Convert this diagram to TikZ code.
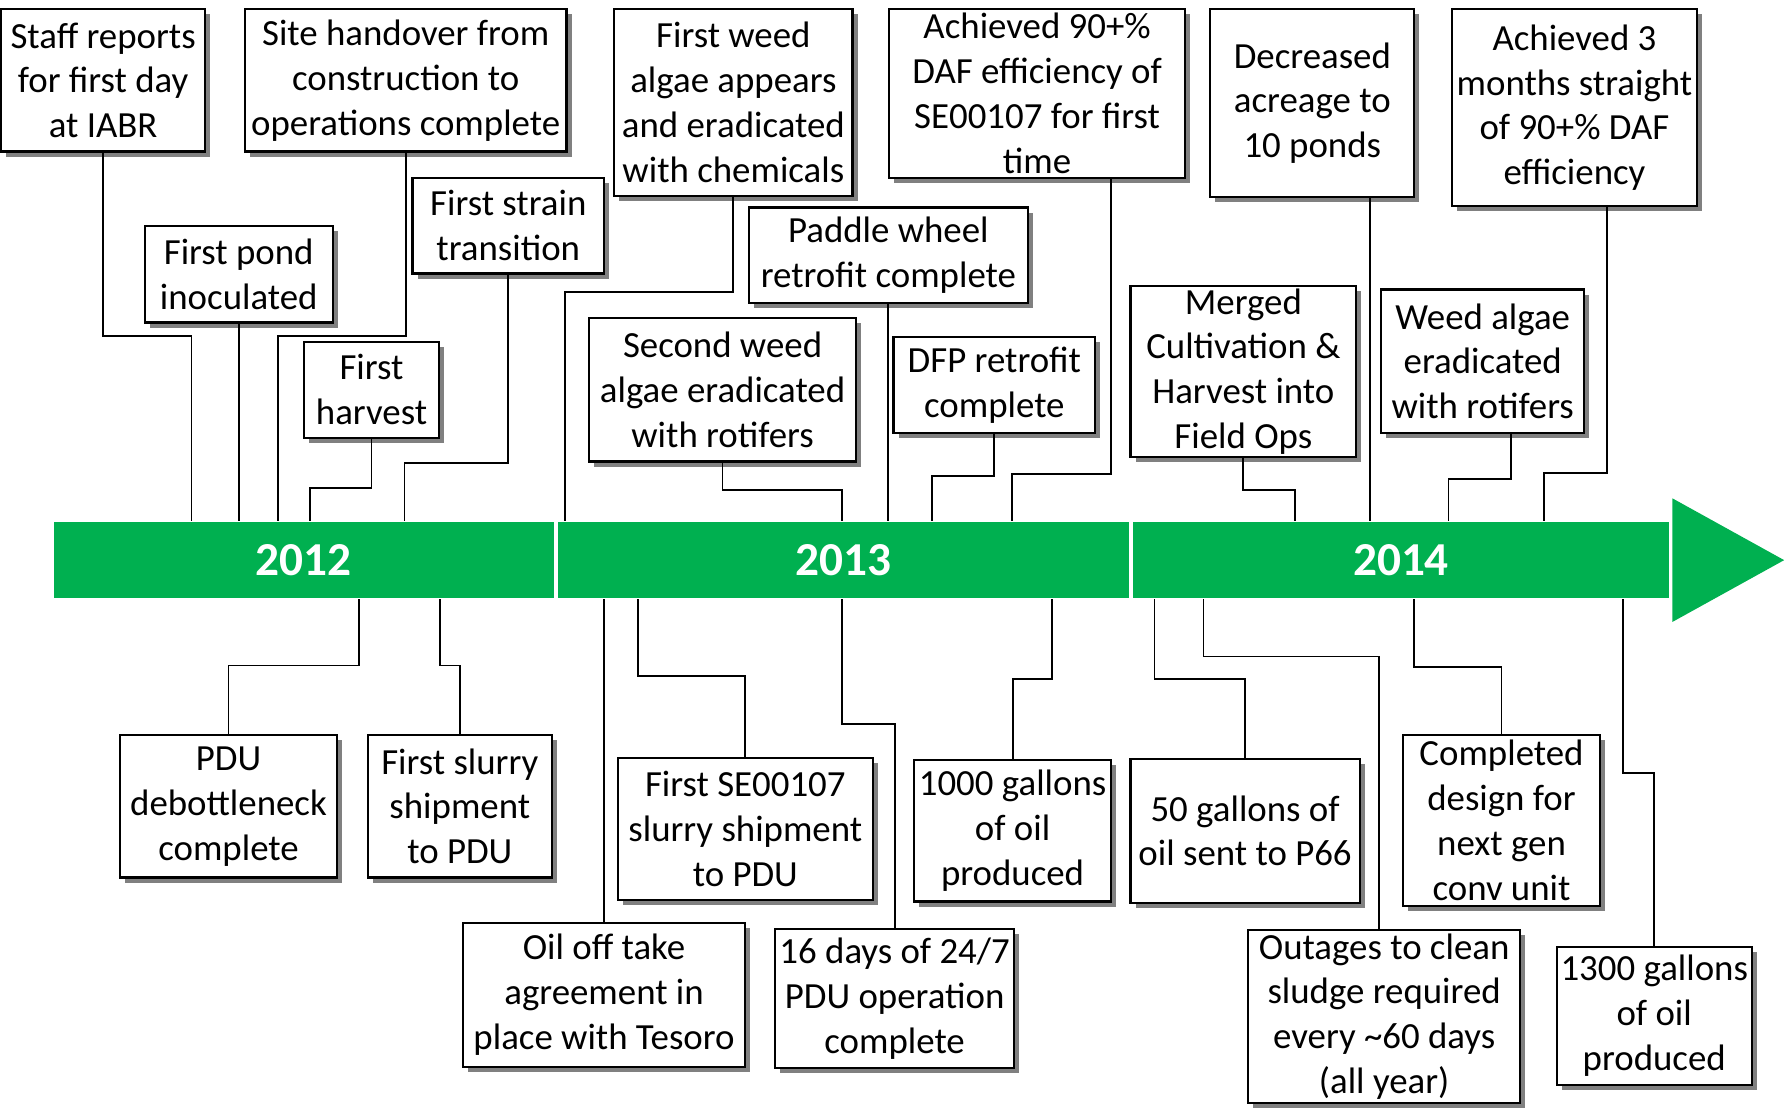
\documentclass[tikz,border=0pt]{standalone}
\usepackage{fontspec}
\setmainfont{Carlito}
\usepackage{xcolor}
\definecolor{mygreen}{RGB}{0, 176, 80}
\usepackage{tikz}
\usetikzlibrary{
    shadows,
    positioning
}
\tikzstyle{event} = [
    rectangle, draw,
    line width=0.55pt,
    fill=white,
    text centered,
    align=center,
    inner sep=0pt,
    font=\fontsize{9.2}{11.2}\selectfont,
    drop shadow={shadow xshift=0.45mm, shadow yshift=-0.45mm,
                 fill=black!50, opacity=1}
]
\tikzstyle{year} = [
    rectangle,
    fill=mygreen,
    minimum height=6.7mm,
    inner sep=0pt,
    text=white,
    font=\fontsize{11.8}{13}\selectfont\bfseries
]
\tikzstyle{link} = [
    line width=0.45pt
]

\begin{document}
\begin{tikzpicture}[x=0.1mm, y=-0.1mm]

\useasboundingbox (0,0) rectangle (1568,973);

% time bar
\node (y2012) [year, minimum width=43.9mm] at (266.5,491.5) {2012};
\node (y2013) [year, minimum width=50.1mm, right=0.2mm of y2012] {2013};
\node (y2014) [year, minimum width=47.1mm, right=0.2mm of y2013] {2014};
\fill [mygreen] ([xshift=0.2mm, yshift=2mm]y2014.north east)
    -- ([xshift=0.2mm, yshift=-2mm]y2014.south east)
    -- ([xshift=10mm]y2014.east) -- cycle;

% events above the bar
\node (staff) [event, minimum width=17.9mm, minimum height=12.5mm] at (90.5,70.5)
    {Staff reports\\for first day\\at IABR};
\node (handover) [event, minimum width=28.2mm, minimum height=12.5mm] at (356,70.5)
    {Site handover from\\construction to\\operations complete};
\node (pond) [event, minimum width=16.5mm, minimum height=8.5mm] at (209.5,240.5)
    {First pond\\inoculated};
\node (strain) [event, minimum width=16.8mm, minimum height=8.4mm] at (446,198)
    {First strain\\transition};
\node (harvest) [event, minimum width=11.8mm, minimum height=8.4mm] at (326,342)
    {First\\harvest};
\node (weed1) [event, minimum width=20.9mm, minimum height=16.4mm] at (643.5,90)
    {First weed\\algae appears\\and eradicated\\with chemicals};
\node (daf1) [event, minimum width=26mm, minimum height=14.8mm] at (910,82)
    {Achieved 90+\%\\DAF efficiency of\\SE00107 for first\\time};
\node (paddle) [event, minimum width=24.5mm, minimum height=8.4mm] at (779.5,224)
    {Paddle wheel\\retrofit complete};
\node (weed2) [event, minimum width=23.4mm, minimum height=12.6mm] at (634,342)
    {Second weed\\algae eradicated\\with rotifers};
\node (dfp) [event, minimum width=17.7mm, minimum height=8.4mm] at (872.5,338)
    {DFP retrofit\\complete};
\node (acreage) [event, minimum width=17.9mm, minimum height=16.5mm] at (1151.5,90.5)
    {Decreased\\acreage to\\10 ponds};
\node (daf3) [event, minimum width=21.5mm, minimum height=17.3mm] at (1381.5,94.5)
    {Achieved 3\\months straight\\of 90+\% DAF\\efficiency};
\node (merged) [event, minimum width=19.8mm, minimum height=15mm] at (1091,326)
    {Merged\\Cultivation \&\\Harvest into\\Field Ops};
\node (weed3) [event, minimum width=17.8mm, minimum height=12.6mm] at (1301,317)
    {Weed algae\\eradicated\\with rotifers};

% events below the bar
\node (debottle) [event, minimum width=19.1mm, minimum height=12.5mm] at (200.5,707.5)
    {PDU\\debottleneck\\complete};
\node (slurry1) [event, minimum width=16.1mm, minimum height=12.5mm] at (403.5,707.5)
    {First slurry\\shipment\\to PDU};
\node (offtake) [event, minimum width=24.8mm, minimum height=12.6mm] at (530,873)
    {Oil off take\\agreement in\\place with Tesoro};
\node (slurry2) [event, minimum width=22.4mm, minimum height=12.5mm] at (654,727.5)
    {First SE00107\\slurry shipment\\to PDU};
\node (pduops) [event, minimum width=21mm, minimum height=12.2mm] at (785,876)
    {16 days of 24/7\\PDU operation\\complete};
\node (oil1000) [event, minimum width=17.3mm, minimum height=12.4mm] at (888.5,729)
    {1000 gallons\\of oil\\produced};
\node (oil50) [event, minimum width=20.1mm, minimum height=12.6mm] at (1092.5,729)
    {50 gallons of\\oil sent to P66};
\node (outages) [event, minimum width=23.9mm, minimum height=15.2mm] at (1214.5,892)
    {Outages to clean\\sludge required\\every \textasciitilde60 days\\(all year)};
\node (nextgen) [event, minimum width=17.3mm, minimum height=15mm] at (1317.5,720)
    {Completed\\design for\\next gen\\conv unit};
\node (oil1300) [event, minimum width=17.1mm, minimum height=12.1mm] at (1451.5,891.5)
    {1300 gallons\\of oil\\produced};

% leader lines, top
\draw [link] (staff.south) |- (168,295) -- (168,0 |- y2012.north);
\draw [link] (handover.south) |- (244,295) -- (244,0 |- y2012.north);
\draw [link] (pond.south) -- (pond.south |- y2012.north);
\draw [link] (strain.south) |- (355,406) -- (355,0 |- y2012.north);
\draw [link] (harvest.south) |- (272,428) -- (272,0 |- y2012.north);
\draw [link] (weed1.south) |- (496,256) -- (496,0 |- y2013.north);
\draw [link] (975,0 |- daf1.south) |- (888,416) -- (888,0 |- y2013.north);
\draw [link] (paddle.south) -- (paddle.south |- y2013.north);
\draw [link] (weed2.south) |- (739,430) -- (739,0 |- y2013.north);
\draw [link] (dfp.south) |- (818,418) -- (818,0 |- y2013.north);
\draw [link] (1202,0 |- acreage.south) -- (1202,0 |- y2014.north);
\draw [link] (1410,0 |- daf3.south) |- (1355,415) -- (1355,0 |- y2014.north);
\draw [link] (merged.south) |- (1136,430) -- (1136,0 |- y2014.north);
\draw [link] (1326,0 |- weed3.south) |- (1271,420) -- (1271,0 |- y2014.north);

% leader lines, bottom
\draw [link] (debottle.north) |- (315,584) -- (315,0 |- y2012.south);
\draw [link] (slurry1.north) |- (386,584) -- (386,0 |- y2012.south);
\draw [link] (offtake.north) -- (offtake.north |- y2013.south);
\draw [link] (slurry2.north) |- (560,593) -- (560,0 |- y2013.south);
\draw [link] (pduops.north) |- (739,635) -- (739,0 |- y2013.south);
\draw [link] (oil1000.north) |- (923,596) -- (923,0 |- y2013.south);
\draw [link] (oil50.north) |- (1013,596) -- (1013,0 |- y2014.south);
\draw [link] (1210,0 |- outages.north) |- (1056,576) -- (1056,0 |- y2014.south);
\draw [link] (nextgen.north) |- (1241,585) -- (1241,0 |- y2014.south);
\draw [link] (oil1300.north) |- (1424,678) -- (1424,0 |- y2014.south);

\end{tikzpicture}
\end{document}
